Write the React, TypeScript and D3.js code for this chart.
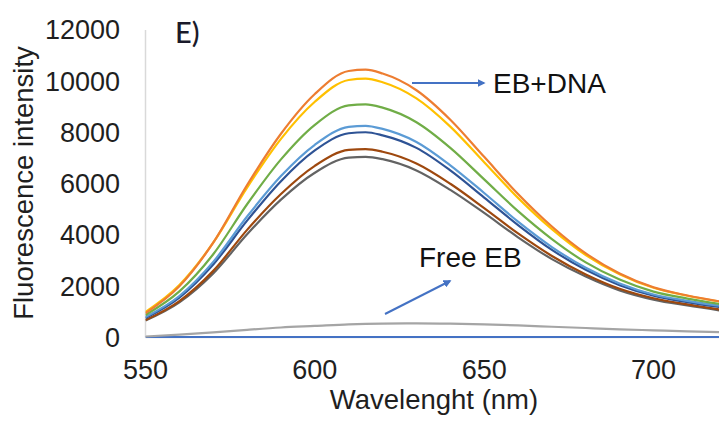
import React from "react";
import * as d3 from "d3";

const wavelengths = [550, 560, 570, 580, 590, 600, 610, 615, 620, 630, 640, 650, 660, 670, 680, 690, 700, 710, 720];

const buffer = [20, 20, 20, 20, 20, 20, 20, 20, 20, 20, 20, 20, 20, 20, 20, 20, 20, 20, 20];
const freeEB = [40, 110, 200, 300, 390, 450, 510, 530, 545, 555, 540, 510, 470, 420, 370, 320, 280, 240, 205];
const dna1 = [950, 2000, 3700, 5950, 7950, 9500, 10400, 10450, 10300, 9650, 8500, 7050, 5600, 4330, 3280, 2500, 1960, 1640, 1400];
const dna2 = [1000, 2050, 3700, 5850, 7750, 9200, 10050, 10100, 9960, 9330, 8230, 6840, 5450, 4230, 3220, 2470, 1940, 1630, 1390];
const dna3 = [880, 1800, 3250, 5200, 6950, 8300, 9060, 9100, 8970, 8400, 7400, 6170, 4930, 3840, 2930, 2260, 1790, 1520, 1300];
const dna4 = [800, 1620, 2950, 4720, 6300, 7520, 8220, 8260, 8140, 7630, 6720, 5640, 4520, 3530, 2720, 2110, 1680, 1430, 1230];
const dna5 = [760, 1560, 2850, 4560, 6100, 7300, 7970, 8010, 7890, 7400, 6520, 5460, 4390, 3420, 2640, 2040, 1630, 1380, 1180];
const dna6 = [680, 1420, 2600, 4200, 5600, 6700, 7320, 7350, 7250, 6790, 6000, 5050, 4060, 3180, 2460, 1900, 1530, 1290, 1080];
const dna7 = [660, 1370, 2500, 4030, 5380, 6430, 7020, 7050, 6960, 6520, 5760, 4860, 3910, 3060, 2380, 1840, 1480, 1250, 1050];

const yTicks = [0, 2000, 4000, 6000, 8000, 10000, 12000];
const xTicks = [550, 600, 650, 700];

const series = [
  { values: buffer, color: "#4472C4" },
  { values: freeEB, color: "#A5A5A5" },
  { values: dna7, color: "#636363" },
  { values: dna6, color: "#9E480E" },
  { values: dna5, color: "#2E5395" },
  { values: dna4, color: "#5B9BD5" },
  { values: dna3, color: "#70AD47" },
  { values: dna2, color: "#FFC000" },
  { values: dna1, color: "#ED7D31" },
];

const W = 719;
const H = 421;

export default function App() {
  const x = d3.scaleLinear().domain([550, 700]).range([145.5, 653.5]);
  const y = d3.scaleLinear().domain([0, 12000]).range([337.5, 30]);
  const line = (vals: number[]) =>
    d3
      .line<number>()
      .x((_, i) => x(wavelengths[i]))
      .y((v) => y(v))
      .curve(d3.curveMonotoneX)(vals) || "";

  const font = "'Liberation Sans', Arial, sans-serif";
  const textColor = "#1f1f1f";

  return (
    <svg
      width={W}
      height={H}
      style={{ position: "absolute", left: 0, top: 0, background: "#fff" }}
    >
      <defs>
        <marker id="arr" viewBox="0 0 10 10" refX="8" refY="5" markerWidth="4" markerHeight="4" orient="auto">
          <path d="M0,0 L10,5 L0,10 z" fill="#4472C4" />
        </marker>
        <clipPath id="plot">
          <rect x={x(550)} y={0} width={W - x(550)} height={y(0) + 2} />
        </clipPath>
      </defs>
      <rect width={W} height={H} fill="#fff" />
      <line x1={x(550)} x2={x(550)} y1={y(12000)} y2={y(0)} stroke="#d9d9d9" strokeWidth={1.5} />
      <line x1={x(550)} x2={W} y1={y(0)} y2={y(0)} stroke="#d9d9d9" strokeWidth={1.5} />
      {yTicks.map((t) => (
        <text key={t} x={120} y={y(t)} dy="0.35em" textAnchor="end" fontFamily={font} fontSize={27} fill={textColor}>
          {t}
        </text>
      ))}
      {xTicks.map((t) => (
        <text key={t} x={x(t)} y={370} dy="0.35em" textAnchor="middle" fontFamily={font} fontSize={27} fill={textColor}>
          {t}
        </text>
      ))}
      <text x={434} y={409} textAnchor="middle" fontFamily={font} fontSize={27.5} fill={textColor}>
        Wavelenght (nm)
      </text>
      <text
        transform={`translate(33,183) rotate(-90)`}
        textAnchor="middle"
        fontFamily={font}
        fontSize={27.5}
        fill={textColor}
      >
        Fluorescence intensity
      </text>
      <text x={175} y={43} fontFamily="Lato, 'Open Sans', sans-serif" fontSize={29} fontWeight={500} fill="#1a1a2a">
        E)
      </text>
      <g clipPath="url(#plot)">
        {series.map((s, i) => (
          <path key={i} d={line(s.values)} fill="none" stroke={s.color} strokeWidth={2.2} />
        ))}
      </g>
      <line x1={412} y1={83} x2={484} y2={83} stroke="#4472C4" strokeWidth={2} markerEnd="url(#arr)" />
      <text x={493} y={93} fontFamily={font} fontSize={28} fill="#111">
        EB+DNA
      </text>
      <line x1={385} y1={314} x2={450} y2={281} stroke="#4472C4" strokeWidth={2} markerEnd="url(#arr)" />
      <text x={419} y={266.5} fontFamily={font} fontSize={28} fill="#111">
        Free EB
      </text>
    </svg>
  );
}
